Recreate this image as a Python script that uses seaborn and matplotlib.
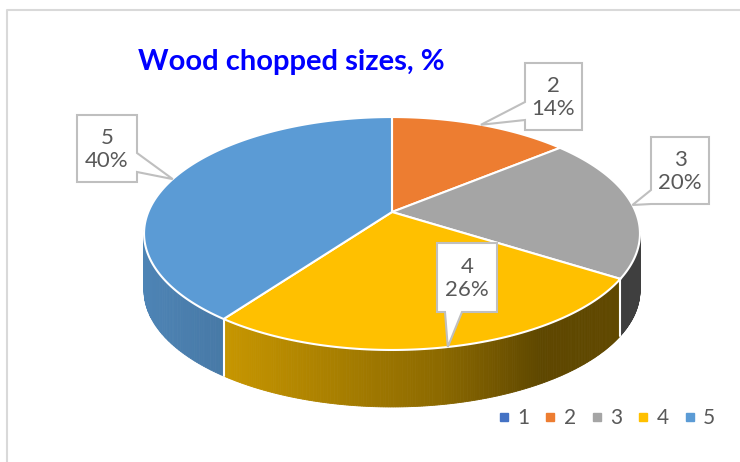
import numpy as np
import matplotlib
matplotlib.use('Agg')
import matplotlib.pyplot as plt
from matplotlib.patches import Polygon
from matplotlib.lines import Line2D
import seaborn as sns

sns.set_theme(style='white')
plt.rcParams['font.family'] = ['Lato', 'DejaVu Sans']

# data
sizes = ['1', '2', '3', '4', '5']
shares = [0, 14, 20, 26, 40]
colors = sns.color_palette(['#4472c4', '#ed7d31', '#a5a5a5', '#ffc000', '#5b9bd5'])
title = 'Wood chopped sizes, %'

# label boxes (x0, y0, x1, y1), side of the pointer, pointer base
boxes = {1: (525, 63, 582, 130, 'left', (102, 120)),
         2: (651, 137, 709, 204, 'left', (190, 204)),
         3: (437, 243, 497, 312, 'bottom', (445, 462)),
         4: (77, 115, 137, 182, 'right', (153, 172))}

# perspective disc -> screen pixels
cx, cy = 392, 212
A, B, k = 243.7, 112.5, 0.1846
depth = 57


def proj(theta):
    x = np.sin(theta)
    y = -np.cos(theta)
    w = 1 - k * y
    return cx + A * x / w, cy + B * y / w, y


fig = plt.figure(figsize=(7.4, 4.62), dpi=100)
ax = fig.add_axes([0, 0, 1, 1])
ax.set_xlim(0, 740)
ax.set_ylim(462, 0)
ax.axis('off')

# frame
ax.plot([7, 7, 740], [462, 10, 10], color='#d9d9d9', lw=1.5)

fr = np.array(shares) / sum(shares)
edges = np.concatenate([[0], np.cumsum(fr)]) * 2 * np.pi

# side wall
quads = []
for i in range(len(sizes)):
    if fr[i] == 0:
        continue
    t = np.linspace(edges[i], edges[i + 1], 200)
    X, Y, yd = proj(t)
    for j in range(len(t) - 1):
        if (yd[j] + yd[j + 1]) / 2 < k - 0.02:
            continue
        xn = ((X[j] + X[j + 1]) / 2 - cx) / 248
        f = np.interp(xn, [-1, -0.63, 0.19, 0.6, 1], [0.85, 0.77, 0.55, 0.37, 0.38])
        c = np.clip(np.array(colors[i]) * f, 0, 1)
        pts = [(X[j], Y[j]), (X[j + 1], Y[j + 1]), (X[j + 1], Y[j + 1] + depth), (X[j], Y[j] + depth)]
        quads.append(((Y[j] + Y[j + 1]) / 2, pts, c))
quads.sort(key=lambda q: q[0])
for _, pts, c in quads:
    ax.add_patch(Polygon(pts, closed=True, facecolor=c, edgecolor=c, lw=0.6, zorder=2))

# white seams on the wall
for e in edges[1:-1]:
    X, Y, yd = proj(e)
    if yd > k:
        ax.plot([X, X], [Y, Y + depth], color='white', lw=1.5, zorder=3)

# top face
for i in range(len(sizes)):
    if fr[i] == 0:
        continue
    t = np.linspace(edges[i], edges[i + 1], 200)
    X, Y, _ = proj(t)
    pts = [(cx, cy)] + list(zip(X, Y))
    ax.add_patch(Polygon(pts, closed=True, facecolor=colors[i], edgecolor='white', lw=1.5, zorder=4))

# callouts
for i, (x0, y0, x1, y1, side, base) in boxes.items():
    mid = (edges[i] + edges[i + 1]) / 2
    tx, ty, _ = proj(mid)
    b0, b1 = base
    if side == 'right':
        pts = [(x0, y0), (x1, y0), (x1, b0), (tx, ty), (x1, b1), (x1, y1), (x0, y1)]
    elif side == 'left':
        pts = [(x0, y0), (x1, y0), (x1, y1), (x0, y1), (x0, b1), (tx, ty), (x0, b0)]
    else:
        pts = [(x0, y0), (x1, y0), (x1, y1), (b1, y1), (tx, ty), (b0, y1), (x0, y1)]
    ax.add_patch(Polygon(pts, closed=True, facecolor='white', edgecolor='#bfbfbf', lw=1.5, zorder=6))
    ax.text((x0 + x1) / 2, (y0 + y1) / 2 + 1, f'{sizes[i]}\n{shares[i]}%', ha='center', va='center',
            fontsize=16, color='#595959', linespacing=1.2, zorder=7)

ax.text(138, 62, title, fontsize=21, fontweight='bold', color='#0000ff', ha='left', va='center')

handles = [Line2D([], [], marker='s', ls='', color=c, markersize=6) for c in colors]
ax.legend(handles, sizes, ncol=5, loc='center', bbox_to_anchor=(0.82, 0.095), frameon=False,
          fontsize=15, labelcolor='#595959', handletextpad=0.4, columnspacing=0.75, handlelength=0.5)

fig.savefig('out.png', dpi=100)
